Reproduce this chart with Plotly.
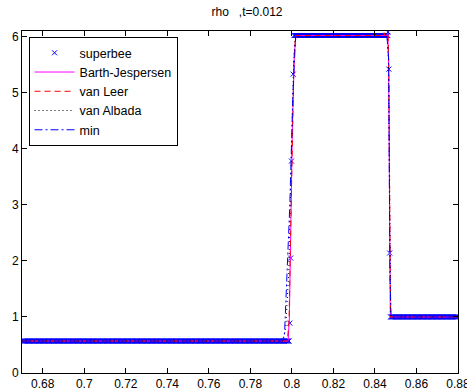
import numpy as np
import plotly.graph_objects as go

# ---- data ----
cell_dx = 0.0004
left_state = 0.57
plateau_state = 6.02
right_state = 1.0

# superbee: discrete cell values across the two jumps
sb_jump1_x = [0.7990, 0.7994, 0.7998, 0.8006]
sb_jump1_rho = [0.89, 2.05, 3.78, 5.33]
sb_jump2_x = [0.8463, 0.8467, 0.8471]
sb_jump2_rho = [6.08, 5.42, 2.14]

# other limiters: profile key points
bj_x = [0.67, 0.7982, 0.7988, 0.7994, 0.8002, 0.8012, 0.8020, 0.8458, 0.8462, 0.8466, 0.8470, 0.8474, 0.88]
bj_rho = [0.57, 0.57, 1.0, 2.5, 4.3, 5.7, 6.02, 6.02, 6.06, 5.5, 2.3, 1.0, 1.0]

vl_x = [0.67, 0.7978, 0.7986, 0.7993, 0.8001, 0.8010, 0.8018, 0.8440, 0.8444, 0.8448, 0.8460, 0.8463, 0.8467, 0.8471, 0.8475, 0.88]
vl_rho = [0.57, 0.57, 0.9, 2.2, 4.0, 5.6, 6.02, 6.02, 6.07, 6.02, 6.02, 6.05, 5.45, 2.2, 1.0, 1.0]

va_x = [0.67, 0.7955, 0.7970, 0.7985, 0.7995, 0.8008, 0.8016, 0.8459, 0.8465, 0.8471, 0.8476, 0.88]
va_rho = [0.57, 0.57, 0.8, 1.8, 3.5, 5.5, 6.0, 6.0, 5.6, 2.0, 1.0, 1.0]

min_x = [0.67, 0.7950, 0.7964, 0.7974, 0.7990, 0.8005, 0.8018, 0.8458, 0.8466, 0.8472, 0.8478, 0.88]
min_rho = [0.57, 0.57, 0.65, 1.45, 3.0, 5.0, 6.0, 6.0, 5.6, 1.8, 1.0, 1.0]

x_range = [0.67, 0.88001]
y_range = [0, 6.1]
x_ticks = [0.68, 0.7, 0.72, 0.74, 0.76, 0.78, 0.8, 0.82, 0.84, 0.86, 0.88]
x_ticklabels = ["0.68", "0.7", "0.72", "0.74", "0.76", "0.78", "0.8", "0.82", "0.84", "0.86", "0.88"]
y_ticks = [0, 1, 2, 3, 4, 5, 6]

# ---- assemble superbee cell arrays ----
left_cells = np.arange(0.6702, sb_jump1_x[0] - 1e-9, cell_dx)
plat_cells = np.arange(sb_jump1_x[-1] + cell_dx, sb_jump2_x[0] - 1e-9, cell_dx)
right_cells = np.arange(sb_jump2_x[-1] + cell_dx, 0.8802, cell_dx)
sb_x = np.concatenate([left_cells, sb_jump1_x, plat_cells, sb_jump2_x, right_cells])
sb_rho = np.concatenate([np.full(len(left_cells), left_state), sb_jump1_rho,
                         np.full(len(plat_cells), plateau_state), sb_jump2_rho,
                         np.full(len(right_cells), right_state)])

fig = go.Figure()
fig.add_trace(go.Scatter(x=sb_x, y=sb_rho, mode="markers", name="superbee",
                         marker=dict(symbol="x-thin", size=5, line=dict(color="#0000ff", width=1), color="#0000ff")))
fig.add_trace(go.Scatter(x=bj_x, y=bj_rho, mode="lines", name="Barth-Jespersen",
                         line=dict(color="#ff00ff", width=1)))
fig.add_trace(go.Scatter(x=vl_x, y=vl_rho, mode="lines", name="van Leer",
                         line=dict(color="#ff0000", width=1, dash="6px,4px")))
fig.add_trace(go.Scatter(x=va_x, y=va_rho, mode="lines", name="van Albada",
                         line=dict(color="#000000", width=1, dash="1px,3px")))
fig.add_trace(go.Scatter(x=min_x, y=min_rho, mode="lines", name="min",
                         line=dict(color="#0000ff", width=1, dash="8px,3px,2px,3px")))

axis_common = dict(showline=True, linecolor="black", linewidth=1, mirror="ticks",
                   ticks="inside", ticklen=5, tickcolor="black", showgrid=False,
                   zeroline=False, automargin=False, ticklabeloverflow="allow",
                   tickfont=dict(family="Liberation Sans, Arial", size=12, color="black"))
fig.update_xaxes(range=x_range, tickvals=x_ticks, ticktext=x_ticklabels, **axis_common)
fig.update_yaxes(range=y_range, tickvals=y_ticks, **axis_common)

fig.update_layout(
    width=467, height=392,
    margin=dict(l=22, r=9, t=31, b=19, autoexpand=False),
    paper_bgcolor="white", plot_bgcolor="white",
    font=dict(family="Liberation Sans, Arial", size=12, color="black"),
    title=dict(text="rho\u00a0\u00a0\u00a0,t=0.012", x=247/467, xref="container", xanchor="center",
               y=1 - 12/392, yref="container", yanchor="middle",
               font=dict(family="Liberation Sans, Arial", size=12, color="black")),
    showlegend=True,
    legend=dict(x=0.015, y=0.982, xanchor="left", yanchor="top",
                bgcolor="white", bordercolor="black", borderwidth=1,
                font=dict(family="Liberation Sans, Arial", size=12.5, color="black"),
                tracegroupgap=0, itemwidth=40),
)
fig.write_html("out.html", config={"displayModeBar": False},
               post_script="document.body.style.margin='0';")
